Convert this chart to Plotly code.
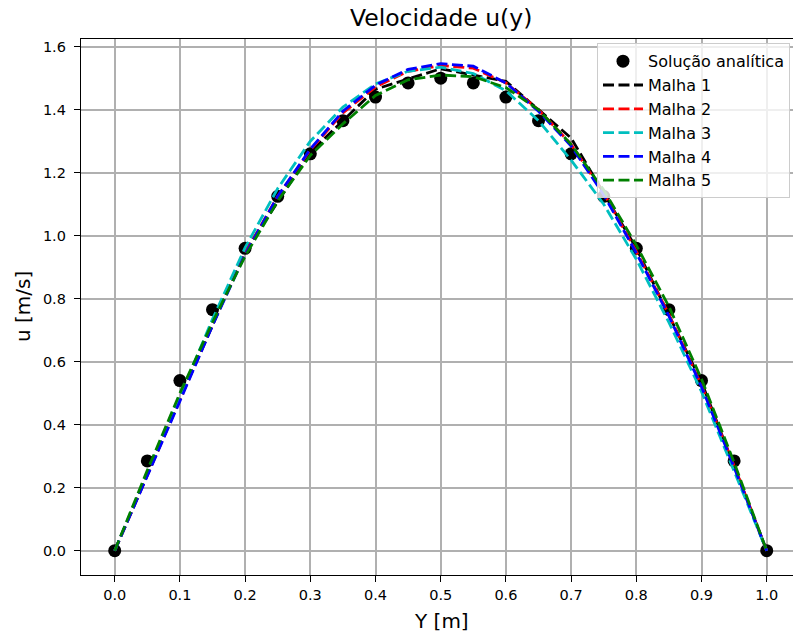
import plotly.graph_objects as go

# Analytical profile sampled every 0.05 m
y_analytic = [0.00, 0.05, 0.10, 0.15, 0.20, 0.25, 0.30, 0.35, 0.40, 0.45, 0.50,
              0.55, 0.60, 0.65, 0.70, 0.75, 0.80, 0.85, 0.90, 0.95, 1.00]
u_analytic = [0.000, 0.285, 0.540, 0.765, 0.960, 1.125, 1.260, 1.365, 1.440, 1.485, 1.500,
              1.485, 1.440, 1.365, 1.260, 1.125, 0.960, 0.765, 0.540, 0.285, 0.000]

# Numerical solutions for each mesh
y_coarse = [0.0, 0.1, 0.2, 0.3, 0.4, 0.5, 0.6, 0.7, 0.8, 0.9, 1.0]
u_malha1 = [0.000, 0.480, 0.950, 1.265, 1.465, 1.530, 1.490, 1.310, 0.960, 0.535, 0.000]

y_fine = y_analytic
u_malha2 = [0.000, 0.240, 0.485, 0.720, 0.945, 1.125, 1.272, 1.390, 1.472, 1.522, 1.540,
            1.532, 1.485, 1.400, 1.290, 1.135, 0.950, 0.750, 0.525, 0.270, 0.000]
u_malha3 = [0.000, 0.245, 0.490, 0.735, 0.962, 1.150, 1.300, 1.408, 1.482, 1.522, 1.535,
            1.515, 1.460, 1.365, 1.240, 1.100, 0.925, 0.725, 0.505, 0.255, 0.000]
u_malha4 = [0.000, 0.235, 0.475, 0.715, 0.940, 1.125, 1.275, 1.395, 1.478, 1.528, 1.546,
            1.538, 1.485, 1.395, 1.285, 1.130, 0.945, 0.745, 0.520, 0.265, 0.000]
u_malha5 = [0.000, 0.255, 0.500, 0.725, 0.935, 1.110, 1.255, 1.355, 1.445, 1.495, 1.510,
            1.505, 1.470, 1.400, 1.290, 1.145, 0.970, 0.775, 0.545, 0.280, 0.000]

x_ticks = [0.0, 0.1, 0.2, 0.3, 0.4, 0.5, 0.6, 0.7, 0.8, 0.9, 1.0]
y_ticks = [0.0, 0.2, 0.4, 0.6, 0.8, 1.0, 1.2, 1.4, 1.6]

FONT = "DejaVu Sans"
DASH = "11px,4.5px"
LW = 2.8

fig = go.Figure()
fig.add_trace(go.Scatter(x=y_analytic, y=u_analytic, mode="markers",
                         name="Solução analítica",
                         marker=dict(color="black", size=13)))

meshes = [
    ("Malha 1", y_coarse, u_malha1, "#000000"),
    ("Malha 2", y_fine, u_malha2, "#ff0000"),
    ("Malha 3", y_fine, u_malha3, "#00bfbf"),
    ("Malha 4", y_fine, u_malha4, "#0000ff"),
    ("Malha 5", y_fine, u_malha5, "#008000"),
]
for name, xs, us, color in meshes:
    fig.add_trace(go.Scatter(x=xs, y=us, mode="lines", name=name,
                             line=dict(color=color, width=LW, dash=DASH)))

axis_common = dict(
    showgrid=True, gridcolor="#b0b0b0", gridwidth=1.5,
    zeroline=False, showline=True, linecolor="black", linewidth=1.3,
    ticks="outside", ticklen=6, tickwidth=1.2, tickcolor="black",
    tickfont=dict(family=FONT, size=14.5, color="black"),
    tickformat=".1f",
)

fig.update_layout(
    width=793, height=635,
    margin=dict(l=81, r=0, t=39, b=60),
    paper_bgcolor="white", plot_bgcolor="white",
    font=dict(family=FONT, color="black"),
    showlegend=True,
    legend=dict(x=0.7247, y=0.992, xanchor="left", yanchor="top",
                bgcolor="rgba(255,255,255,0.8)", bordercolor="#cccccc", borderwidth=1,
                font=dict(family=FONT, size=16, color="black"),
                tracegroupgap=0, itemwidth=40),
    xaxis=dict(range=[-0.0517, 1.0403], tickvals=x_ticks, mirror=True, **axis_common),
    yaxis=dict(range=[-0.0771, 1.6244], tickvals=y_ticks, mirror=False,
               ticklabelstandoff=5, **axis_common),
    annotations=[
        dict(text="Velocidade u(y)", x=0.5063, y=1, xref="paper", yref="paper",
             showarrow=False, font=dict(family=FONT, size=23.5, color="black"),
             xanchor="center", yanchor="middle", yshift=21),
        dict(text="Y [m]", x=0.5063, y=0, xref="paper", yref="paper",
             showarrow=False, font=dict(family=FONT, size=20, color="black"),
             xanchor="center", yanchor="middle", yshift=-46),
        dict(text="u [m/s]", x=0, y=0.5, xref="paper", yref="paper",
             showarrow=False, font=dict(family=FONT, size=20, color="black"),
             textangle=-90, xanchor="center", yanchor="middle", xshift=-58),
    ],
)

fig.write_html("out.html")
